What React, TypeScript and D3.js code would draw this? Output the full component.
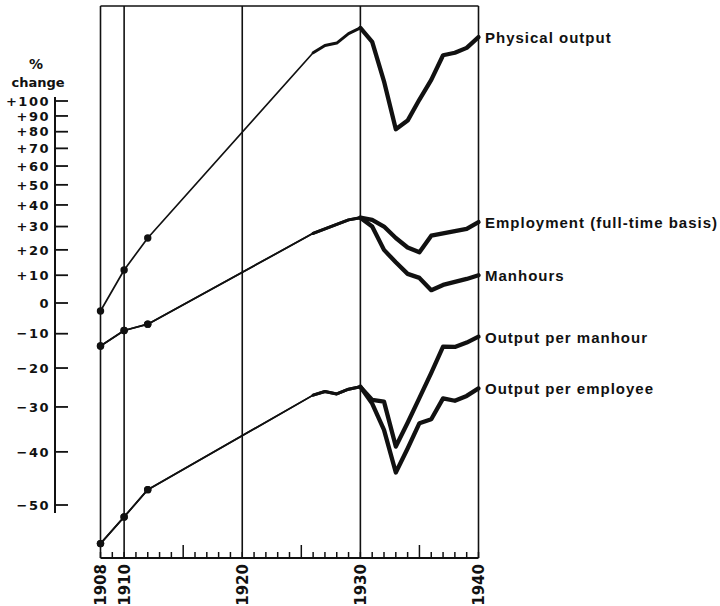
import React from 'react';
import * as d3 from 'd3';

// early benchmark years (dots), then annual data 1926-1940
const earlyYears = [1908, 1910, 1912];
const annualYears = [1926, 1927, 1928, 1929, 1930, 1931, 1932, 1933, 1934, 1935, 1936, 1937, 1938, 1939, 1940];

const physicalEarly = [-2.7, 12, 25];
const physicalAnnual = [136, 142, 144, 152, 157, 145, 114, 81.5, 87, 101, 115, 134, 136, 140, 149];

const employmentEarly = [-13.7, -9, -7];
const employmentAnnual = [27, 29, 31, 33, 34, 33, 30, 25, 21, 19, 26, 27, 28, 29, 32];

const manhoursEarly = [-13.7, -9, -7];
const manhoursAnnual = [27, 29, 31, 33, 34, 30, 20, 15, 10.5, 9, 4.5, 6.4, 7.5, 8.6, 10];

const perManhourEarly = [-56.2, -52, -47.3];
const perManhourAnnual = [-27.1, -26.2, -26.8, -25.6, -25, -28.3, -28.7, -38.9, -33.7, -27.8, -21.3, -13.9, -14, -12.7, -10.9];

const perEmployeeEarly = [-56.2, -52, -47.3];
const perEmployeeAnnual = [-27.1, -26.2, -26.8, -25.6, -25, -29.2, -35.3, -44.1, -39.3, -33.8, -32.9, -27.9, -28.5, -27.3, -25.4];

const seriesNames = [
  'Physical output',
  'Employment (full-time basis)',
  'Manhours',
  'Output per manhour',
  'Output per employee',
];

const yTicks = [100, 90, 80, 70, 60, 50, 40, 30, 20, 10, 0, -10, -20, -30, -40, -50];
const frameYears = [1908, 1910, 1920, 1930, 1940];
const labelYears = [1908, 1910, 1920, 1930, 1940];

const INK = '#111';
const numFont = "'DejaVu Sans', sans-serif";
const textFont = "'Liberation Sans', Arial, sans-serif";

const App: React.FC = () => {
  const width = 720;
  const height = 606;
  const top = 6;
  const bottom = 558;

  const x = d3.scaleLinear().domain([1908, 1940]).range([100.5, 478.5]);
  // ratio scale: % change plotted on log of (100 + pct)
  const yLog = d3.scaleLog().domain([50, 200]).range([505, 101]);
  const y = (p: number) => yLog(100 + p);

  const line = d3.line<[number, number]>()
    .x(d => x(d[0]))
    .y(d => y(d[1]));

  const series = [
    { name: seriesNames[0], early: physicalEarly, annual: physicalAnnual },
    { name: seriesNames[1], early: employmentEarly, annual: employmentAnnual },
    { name: seriesNames[2], early: manhoursEarly, annual: manhoursAnnual },
    { name: seriesNames[3], early: perManhourEarly, annual: perManhourAnnual },
    { name: seriesNames[4], early: perEmployeeEarly, annual: perEmployeeAnnual },
  ];

  const allYears = d3.range(1908, 1941);

  return (
    <svg width={width} height={height} style={{ position: 'absolute', left: 0, top: 0, background: '#fff' }}>
      {/* frame */}
      <line x1={x(1908)} x2={x(1940)} y1={top} y2={top} stroke={INK} strokeWidth={1.6} />
      <line x1={x(1908)} x2={x(1940)} y1={bottom} y2={bottom} stroke={INK} strokeWidth={2} />
      {frameYears.map(yr => (
        <line key={yr} x1={x(yr)} x2={x(yr)} y1={top} y2={bottom} stroke={INK} strokeWidth={1.6} />
      ))}

      {/* year ticks */}
      {allYears.map(yr => (
        <line key={'t' + yr} x1={x(yr)} x2={x(yr)} y1={bottom}
          y2={bottom - (yr % 5 === 0 && yr % 10 !== 0 ? 13 : 6)} stroke={INK} strokeWidth={1.5} />
      ))}
      {labelYears.map(yr => (
        <text key={'l' + yr} transform={`translate(${x(yr) + 5.5},${bottom + 6}) rotate(-90)`}
          textAnchor="end" fontFamily={numFont} fontWeight="bold" fontSize={15} fill={INK}>{yr}</text>
      ))}

      {/* y axis */}
      <line x1={55} x2={55} y1={97} y2={513} stroke={INK} strokeWidth={2} />
      {yTicks.map(t => (
        <g key={'y' + t}>
          <line x1={54} x2={68} y1={y(t)} y2={y(t)} stroke={INK} strokeWidth={1.8} />
          <text x={50} y={y(t)} dy="0.36em" textAnchor="end" fontFamily={numFont} fontWeight="bold"
            fontSize={13} letterSpacing={1.5} fill={INK}>{t > 0 ? `+${t}` : t < 0 ? `\u2212${-t}` : '0'}</text>
        </g>
      ))}
      <text x={36} y={69} textAnchor="middle" fontFamily={numFont} fontWeight="bold" fontSize={14} fill={INK}>%</text>
      <text x={38} y={87} textAnchor="middle" fontFamily={numFont} fontWeight="bold" fontSize={13} fill={INK}>change</text>

      {/* series */}
      {series.map(s => {
        const earlyPts: [number, number][] = earlyYears.map((yr, i) => [yr, s.early[i]]);
        const annualPts: [number, number][] = annualYears.map((yr, i) => [yr, s.annual[i]]);
        const gapPts: [number, number][] = [earlyPts[earlyPts.length - 1], annualPts[0]];
        const i1930 = annualYears.indexOf(1930);
        const midPts = annualPts.slice(0, i1930 + 1);
        const latePts = annualPts.slice(i1930);
        const last = annualPts[annualPts.length - 1];
        return (
          <g key={s.name} fill="none" stroke={INK} strokeLinejoin="round" strokeLinecap="round">
            <path d={line(earlyPts) || ''} strokeWidth={1.7} />
            <path d={line(gapPts) || ''} strokeWidth={1.7} />
            <path d={line(midPts) || ''} strokeWidth={3} />
            <path d={line(latePts) || ''} strokeWidth={4.3} />
            {earlyPts.map(p => (
              <circle key={p[0]} cx={x(p[0])} cy={y(p[1])} r={3.7} fill={INK} stroke="none" />
            ))}
            <text x={485} y={y(last[1]) + 6} fill={INK} stroke="none" fontFamily={textFont}
              fontWeight="bold" fontSize={15} letterSpacing={1}>{s.name}</text>
          </g>
        );
      })}
    </svg>
  );
};

export default App;
